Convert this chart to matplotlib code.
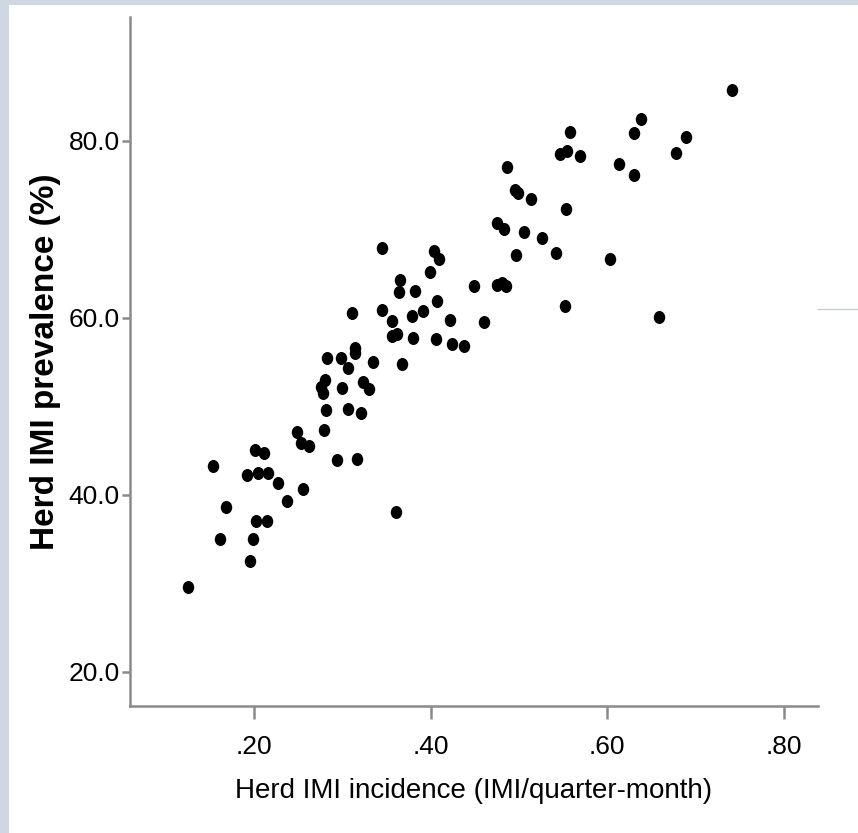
import matplotlib
matplotlib.use("Agg")
import matplotlib.pyplot as plt
import numpy as np
from matplotlib.path import Path
from matplotlib.patches import Rectangle
from matplotlib.lines import Line2D
from matplotlib.ticker import FixedLocator

plt.rcParams['font.family'] = ['Liberation Sans', 'DejaVu Sans']

# Herd IMI incidence (IMI/quarter-month)
incidence = [
    0.125, 0.154, 0.168, 0.1615, 0.1955, 0.199, 0.202, 0.215, 0.192, 0.2045,
    0.216, 0.201, 0.211, 0.227, 0.237, 0.2555, 0.249, 0.253, 0.262, 0.279,
    0.294, 0.317, 0.2815, 0.3065, 0.321, 0.280, 0.276, 0.278, 0.300, 0.3235,
    0.330, 0.2825, 0.2985, 0.3065, 0.3145, 0.3145, 0.335, 0.3675, 0.311, 0.345,
    0.345, 0.356, 0.356, 0.362, 0.3655, 0.364, 0.382, 0.379, 0.391, 0.380,
    0.407, 0.399, 0.404, 0.4095, 0.422, 0.406, 0.424, 0.438, 0.449, 0.4605,
    0.475, 0.483, 0.4955, 0.499, 0.514, 0.553, 0.506, 0.526, 0.542, 0.4965,
    0.603, 0.552, 0.475, 0.481, 0.4855, 0.4865, 0.558, 0.5465, 0.5545, 0.569,
    0.6135, 0.630, 0.630, 0.638, 0.678, 0.689, 0.7415, 0.6585, 0.361,
]
# Herd IMI prevalence (%)
prevalence = [
    29.5, 43.2, 38.6, 35.0, 32.5, 35.0, 37.0, 37.0, 42.2, 42.5,
    42.5, 45.1, 44.7, 41.3, 39.3, 40.6, 47.1, 45.8, 45.5, 47.3,
    43.9, 44.0, 49.6, 49.7, 49.2, 53.0, 52.2, 51.5, 52.1, 52.7,
    51.9, 55.4, 55.4, 54.3, 56.6, 56.0, 55.0, 54.8, 60.5, 67.9,
    60.9, 59.6, 57.9, 58.2, 64.3, 62.9, 63.0, 60.2, 60.8, 57.7,
    61.9, 65.2, 67.5, 66.6, 59.7, 57.6, 57.0, 56.8, 63.6, 59.5,
    70.7, 70.0, 74.4, 74.1, 73.4, 72.3, 69.7, 69.0, 67.3, 67.1,
    66.6, 61.3, 63.7, 63.9, 63.6, 77.0, 81.0, 78.5, 78.8, 78.3,
    77.4, 76.1, 80.9, 82.5, 78.6, 80.4, 85.8, 60.1, 38.0,
]

x_ticks = [0.2, 0.4, 0.6, 0.8]
x_tick_labels = [".20", ".40", ".60", ".80"]
y_ticks = [20.0, 40.0, 60.0, 80.0]
y_tick_labels = ["20.0", "40.0", "60.0", "80.0"]

W, H = 858, 833
fig = plt.figure(figsize=(W / 100, H / 100), dpi=100, facecolor="white")

# light border strips (left and top) and stray line at right
band = "#cfd7e3"
fig.patches.append(Rectangle((0, 0), 9 / W, 1, transform=fig.transFigure,
                             facecolor=band, edgecolor="none", zorder=0))
fig.patches.append(Rectangle((0, 1 - 5 / H), 1, 5 / H, transform=fig.transFigure,
                             facecolor=band, edgecolor="none", zorder=0))
fig.lines.append(Line2D([818 / W, 1], [1 - 309 / H, 1 - 309 / H],
                        transform=fig.transFigure, color="#c5cdd9", lw=1))

ax = fig.add_axes([130 / W, (H - 706) / H, (818 - 130) / W, (706 - 17) / H])
ax.set_facecolor("white")

# slightly tall elliptical marker
circ = Path.unit_circle()
ell = Path(circ.vertices * np.array([0.88, 1.0]), circ.codes)

ax.scatter(incidence, prevalence, s=88, marker=ell, c="black",
           linewidths=0, zorder=3)

ax.set_xlim(0.0596, 0.8385)
ax.set_ylim(16.1, 94.0)

ax.xaxis.set_major_locator(FixedLocator(x_ticks))
ax.set_xticklabels(x_tick_labels)
ax.yaxis.set_major_locator(FixedLocator(y_ticks))
ax.set_yticklabels(y_tick_labels)

for s in ["top", "right"]:
    ax.spines[s].set_visible(False)
for s in ["left", "bottom"]:
    ax.spines[s].set_color("#8a8a8a")
    ax.spines[s].set_linewidth(1.8)

ax.tick_params(axis="x", length=9, width=1.8, color="#8a8a8a", pad=12,
               labelsize=19, labelcolor="black")
ax.tick_params(axis="y", length=6, width=1.8, color="#8a8a8a", pad=1.5,
               labelsize=19, labelcolor="black")

ax.set_xlabel("Herd IMI incidence (IMI/quarter-month)", fontsize=20,
              color="black")
ax.xaxis.set_label_coords(0.5, -0.104)
ax.set_ylabel("Herd IMI prevalence (%)", fontsize=24, fontweight="bold",
              color="black")
ax.yaxis.set_label_coords(-0.1, 0.5)

fig.savefig("out.png", dpi=100, facecolor="white")
